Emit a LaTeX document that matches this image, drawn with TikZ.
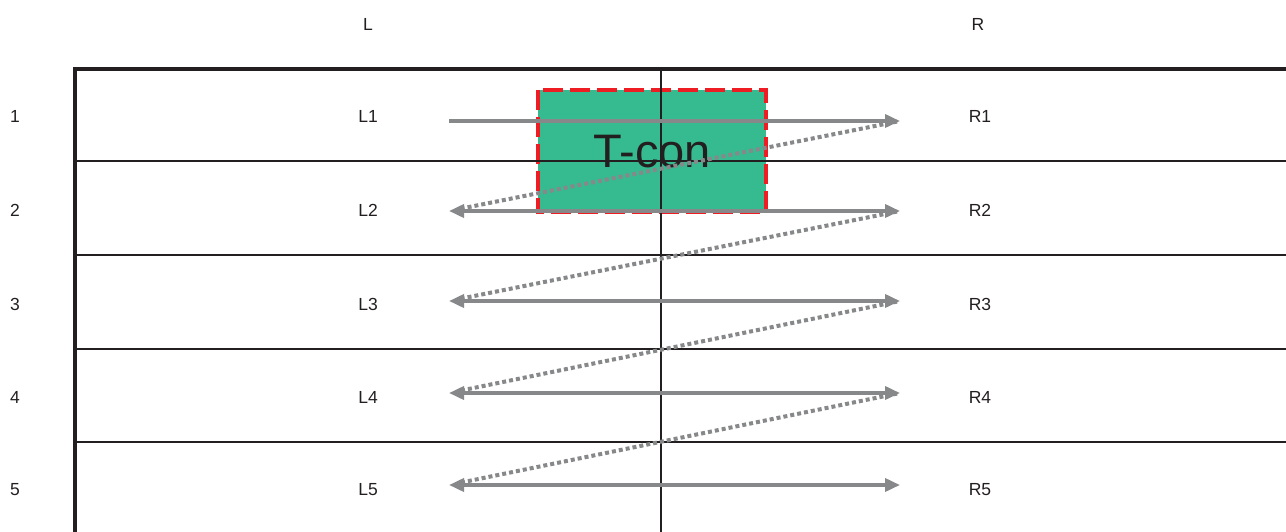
\documentclass[tikz,border=0pt]{standalone}
\usepackage{fontspec}
\setmainfont{Liberation Sans}
\usetikzlibrary{arrows.meta}
\definecolor{ink}{HTML}{231F20}
\definecolor{arrowgray}{HTML}{86888A}
\definecolor{tgreen}{HTML}{35BB8F}
\definecolor{tred}{HTML}{EE1D23}
\tikzset{
  lbl/.style={font=\fontsize{17.5}{20}\selectfont, text=ink, inner sep=0pt},
  frame/.style={draw=ink, line width=3.5pt},
  sep/.style={draw=ink, line width=2.8pt},
  midline/.style={draw=ink, line width=1.4pt},
  flow/.style={draw=arrowgray, line width=3.6pt, -{Triangle[length=15pt,width=13pt]}},
  flowboth/.style={draw=arrowgray, line width=3.6pt, {Triangle[length=15pt,width=13pt]}-{Triangle[length=15pt,width=13pt]}},
  back/.style={draw=arrowgray, line width=4pt, dash pattern=on 4pt off 3pt, shorten <=3pt, shorten >=10pt},
  tcon/.style={fill=tgreen, draw=tred, line width=3.5pt, dash pattern=on 20pt off 7pt}
}
\begin{document}
\begin{tikzpicture}[x=1pt,y=-1pt]
\useasboundingbox (0,0) rectangle (1286,532);
% T-con box
\path[tcon] (538,90) rectangle (766,212);
\node[font=\fontsize{47}{50}\selectfont, text=ink, inner sep=0pt] (tc) at (652,152) {T-con};
% frame
\draw[frame] (1286,69) -- (75,69) -- (75,532);
\foreach \y in {161,255,349,442} \draw[sep] (75,\y) -- (1286,\y);
\draw[midline] (661,69) -- (661,532);
% headers
\node[lbl] (hL) at (368,24) {L};
\node[lbl] (hR) at (978,24) {R};
% rows
\foreach \i/\ly/\ay in {1/116/121, 2/210/211, 3/304/301, 4/397/393, 5/490/485} {
  \node[lbl] (n\i) at (15,\ly) {\i};
  \node[lbl] (L\i) at (368,\ly) {L\i};
  \node[lbl] (R\i) at (980,\ly) {R\i};
  \coordinate (al\i) at (449,\ay);
  \coordinate (ar\i) at (900,\ay);
}
\draw[flow] (al1) -- (ar1);
\foreach \i in {2,3,4,5} \draw[flowboth] (al\i) -- (ar\i);
\foreach \i/\j in {1/2,2/3,3/4,4/5} \draw[back] (ar\i) -- (al\j);
\end{tikzpicture}
\end{document}
